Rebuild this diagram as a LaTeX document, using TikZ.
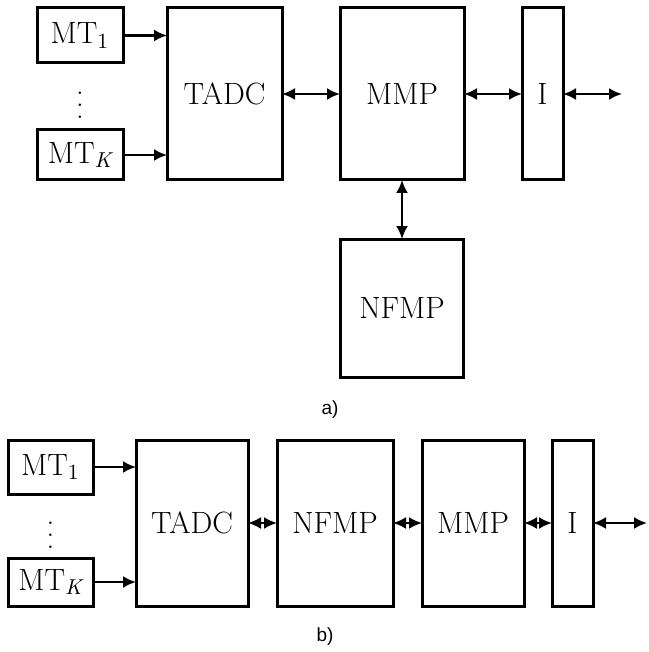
\documentclass[tikz,border=0pt]{standalone}
\usepackage{fontspec}
\usepackage{tikz}
\usetikzlibrary{arrows.meta,positioning}
\newfontfamily\rotulo{Liberation Sans}
\newcommand{\puntos}{\vbox{\baselineskip6pt\lineskiplimit0pt\hbox{.}\hbox{.}\hbox{.}}}

\begin{document}
\begin{tikzpicture}[
    font=\fontsize{15.4}{18}\selectfont,
    bloque/.style={draw, line width=1.5pt, inner sep=0pt, outer sep=0pt,
                   minimum height=86pt},
    flecha/.style={-{Latex[length=6.5pt,width=6pt]}, line width=1.1pt},
    dflecha/.style={{Latex[length=6.5pt,width=6pt]}-{Latex[length=6.5pt,width=6pt]},
                    line width=1.1pt},
    leyenda/.style={font=\rotulo\fontsize{9.5}{11}\selectfont}
  ]
    \useasboundingbox (0,0) rectangle (324pt,-326pt);
    % a)
    \node[bloque, minimum width=57.5pt] (tadcA) at (112.25pt,-47pt) {TADC};
    \node[bloque, minimum width=62pt, right=29pt of tadcA] (mmpA) {MMP};
    \node[bloque, minimum width=20.5pt, right=29pt of mmpA] (iA) {I};
    \node[bloque, minimum width=61.5pt, minimum height=69pt,
          below=29.5pt of mmpA] (nfmpA) {NFMP};
    \node[bloque, minimum width=43pt, minimum height=27.5pt,
          below left=0pt and 22pt of tadcA.north west] (mt1A) {MT\textsubscript{1}};
    \node[bloque, minimum width=43pt, minimum height=25pt,
          above left=0pt and 22pt of tadcA.south west] (mtKA) {MT\textsubscript{\itshape K}};
    \node[inner sep=0pt, below=14.5pt of mt1A] (puntosA) {\puntos};
    \coordinate[right=29.5pt of iA.east] (finA);
    \node[leyenda] (etiqA) at (165pt,-205pt) {a)};
    \draw[flecha] (mt1A) -- (mt1A -| tadcA.west);
    \draw[flecha] (mtKA) -- (mtKA -| tadcA.west);
    \draw[dflecha] (tadcA) -- (mmpA);
    \draw[dflecha] (mmpA) -- (iA);
    \draw[dflecha] (iA) -- (finA);
    \draw[dflecha] (mmpA) -- (nfmpA);
    % b)
    \node[bloque, minimum width=56pt, minimum height=83pt] (tadcB) at (96pt,-261.5pt) {TADC};
    \node[bloque, minimum width=58pt, minimum height=83pt,
          right=14.5pt of tadcB] (nfmpB) {NFMP};
    \node[bloque, minimum width=51pt, minimum height=83pt,
          right=14.5pt of nfmpB] (mmpB) {MMP};
    \node[bloque, minimum width=20.5pt, minimum height=83pt,
          right=14pt of mmpB] (iB) {I};
    \node[bloque, minimum width=42.5pt, minimum height=27pt,
          below left=0pt and 21.5pt of tadcB.north west] (mt1B) {MT\textsubscript{1}};
    \node[bloque, minimum width=42.5pt, minimum height=24pt,
          above left=0pt and 21.5pt of tadcB.south west] (mtKB) {MT\textsubscript{\itshape K}};
    \node[inner sep=0pt, below=14pt of mt1B] (puntosB) {\puntos};
    \coordinate[right=27pt of iB.east] (finB);
    \node[leyenda] (etiqB) at (162.5pt,-318.5pt) {b)};
    \draw[flecha] (mt1B) -- (mt1B -| tadcB.west);
    \draw[flecha] (mtKB) -- (mtKB -| tadcB.west);
    \draw[dflecha] (tadcB) -- (nfmpB);
    \draw[dflecha] (nfmpB) -- (mmpB);
    \draw[dflecha] (mmpB) -- (iB);
    \draw[dflecha] (iB) -- (finB);
  \end{tikzpicture}
\end{document}
